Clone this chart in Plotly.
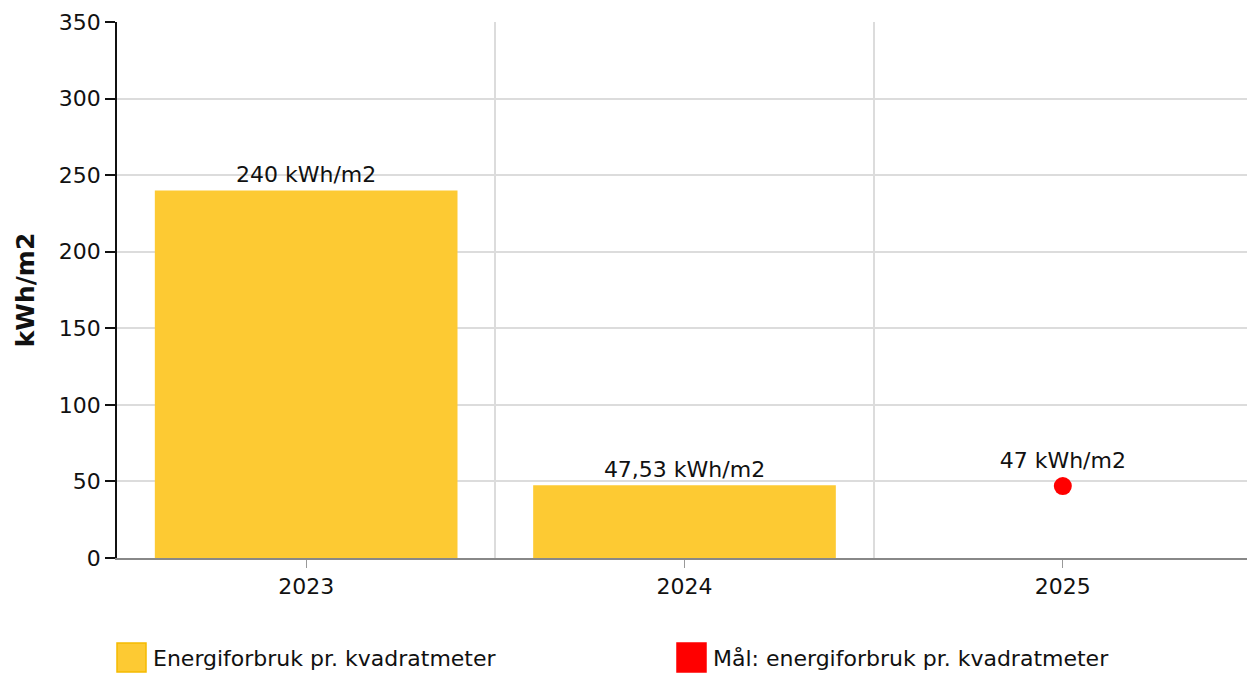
import plotly.graph_objects as go

years = ["2023", "2024", "2025"]
energy_years = ["2023", "2024"]
energy_values = [240, 47.53]
target_years = ["2025"]
target_values = [47]
y_ticks = [0, 50, 100, 150, 200, 250, 300, 350]
legend_labels = ["Energiforbruk pr. kvadratmeter", "Mål: energiforbruk pr. kvadratmeter"]

FONT = "Verdana, DejaVu Sans, sans-serif"
BAR_COLOR = "#FDCA33"
RED = "#FF0000"
GRID = "#dcdcdc"

# page offset (body margin) in the browser
OFF = 8
W, H = 1255 - OFF, 673 - OFF
L, R, T, B = 117 - OFF, 3, 22 - OFF, 115

pos = {y: i for i, y in enumerate(years)}

def fmt(v):
    return f"{v:g}".replace(".", ",") + " kWh/m2"

fig = go.Figure()
fig.add_trace(go.Bar(
    x=[pos[y] for y in energy_years], y=energy_values,
    width=0.8, marker=dict(color=BAR_COLOR, line=dict(width=0)),
    text=[fmt(v) for v in energy_values], textposition="outside",
    textfont=dict(size=22, color="#111"), cliponaxis=False,
    name=legend_labels[0], showlegend=False,
))
fig.add_trace(go.Scatter(
    x=[pos[y] for y in target_years], y=target_values, mode="markers+text",
    marker=dict(color=RED, size=18),
    text=[fmt(v) for v in target_values], textposition="top center",
    textfont=dict(size=22, color="#111"), cliponaxis=False,
    name=legend_labels[1], showlegend=False,
))

fig.update_layout(
    width=W, height=H,
    margin=dict(l=L, r=R, t=T, b=B),
    paper_bgcolor="white", plot_bgcolor="white",
    font=dict(family=FONT, size=22, color="#111"),
)
boundaries = [i + 0.5 for i in range(len(years) - 1)] + [len(years) - 0.501]
fig.update_xaxes(
    range=[-0.5, len(years) - 0.5],
    tickmode="array", tickvals=list(range(len(years))), ticktext=years,
    showgrid=False, ticks="outside", ticklen=8, tickcolor="#999",
    showline=True, linecolor="#888", linewidth=1.5,
    tickfont=dict(size=22), zeroline=False,
    minor=dict(tickmode="array", tickvals=boundaries,
               showgrid=True, gridcolor=GRID, gridwidth=1.5, ticks=""),
)
fig.update_yaxes(
    range=[0, 350], tickmode="array", tickvals=y_ticks,
    showgrid=True, gridcolor=GRID, gridwidth=1.5,
    ticks="outside", ticklen=10, tickcolor="#111", tickwidth=1.5,
    showline=True, linecolor="#111", linewidth=1.5,
    zeroline=False, tickfont=dict(size=22),
    title=dict(text="<b>kWh/m2</b>", font=dict(size=25), standoff=17),
)

# Legend drawn below the plot (coordinates given in page pixels)
plot_w = W - L - R
plot_h = H - T - B
def px_x(x):
    return (x - OFF - L) / plot_w
def px_y(y):
    return (H - B - (y - OFF)) / plot_h

legend_items = [(117, BAR_COLOR, "#F5BA00", legend_labels[0]),
                (677, RED, RED, legend_labels[1])]
for x0, fill, border, label in legend_items:
    fig.add_shape(type="rect", xref="paper", yref="paper",
                  x0=px_x(x0), x1=px_x(x0 + 29), y0=px_y(643), y1=px_y(672),
                  fillcolor=fill, line=dict(color=border, width=1.5))
    fig.add_annotation(xref="paper", yref="paper", x=px_x(x0 + 34), y=px_y(658),
                       text=label, showarrow=False, xanchor="left", yanchor="middle",
                       font=dict(size=22, color="#111"))

fig.write_html("out.html")
